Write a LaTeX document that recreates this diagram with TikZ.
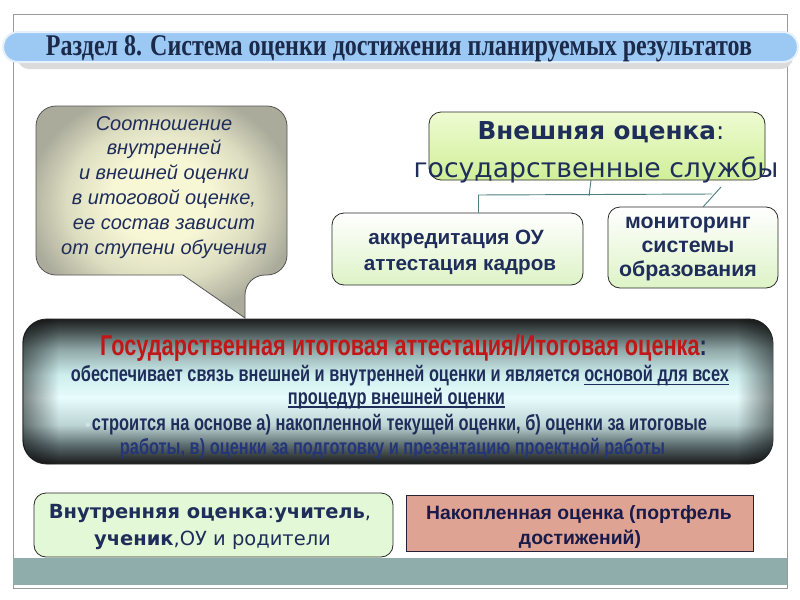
\documentclass[tikz,border=0pt]{standalone}
\usepackage{fontspec}
\setmainfont{Liberation Sans}
\newfontfamily\tserif{Liberation Serif}
\newfontfamily\dvs{DejaVu Sans}
\usepackage{graphicx}
\usetikzlibrary{fadings}
\newsavebox\myulbox
\newcommand\myul[1]{\sbox\myulbox{#1}\rlap{\rule[-1.8pt]{\wd\myulbox}{0.8pt}}\usebox\myulbox}

\definecolor{navy}{HTML}{1F2D5A}
\definecolor{tnavy}{HTML}{1C2A4A}
\definecolor{gred}{HTML}{C01818}
\definecolor{line5}{HTML}{24367A}
\definecolor{bulletc}{HTML}{D0E2E2}
\definecolor{tealline}{HTML}{4F8080}
\definecolor{band}{HTML}{8EADAB}
\definecolor{framec}{HTML}{9A9A9A}
\definecolor{titlefill}{HTML}{9CC8F4}
\definecolor{titleedge}{HTML}{E6F1FC}
\definecolor{boxedge}{HTML}{2A2A2A}
\definecolor{greenfill}{HTML}{E3F8D6}
\definecolor{salmon}{HTML}{DFA393}
\definecolor{nakedge}{HTML}{2A2035}
\definecolor{naktext}{HTML}{1A1A4A}
\definecolor{extTop}{HTML}{EEFBD2}
\definecolor{extBot}{HTML}{D0EF98}
\definecolor{accBot}{HTML}{DDF3C6}
\definecolor{callIn}{HTML}{F7F7D6}
\definecolor{callMid}{HTML}{DCDCC0}
\definecolor{callOut}{HTML}{ABAB9C}
\definecolor{m0}{HTML}{1A1A1A}
\definecolor{m1}{HTML}{5C6C70}
\definecolor{m2}{HTML}{BCD4D4}
\definecolor{m3}{HTML}{E8FCFC}
\definecolor{m4}{HTML}{CDEDED}
\definecolor{m5}{HTML}{8EA6A6}
\definecolor{m6}{HTML}{4A5656}
\definecolor{m7}{HTML}{1E1E1E}

\pgfdeclareverticalshading{metal}{100bp}{color(0bp)=(m0); color(25bp)=(m0); color(31.6bp)=(m1); color(38.5bp)=(m2); color(47.9bp)=(m3); color(55.9bp)=(m4); color(64.6bp)=(m5); color(70.5bp)=(m6); color(75bp)=(m7); color(100bp)=(m7)}
\pgfdeclarehorizontalshading{edgeshade}{100bp}{color(0bp)=(pgftransparent!50); color(25bp)=(pgftransparent!50); color(27.5bp)=(pgftransparent); color(72.5bp)=(pgftransparent); color(75bp)=(pgftransparent!50); color(100bp)=(pgftransparent!50)}
\pgfdeclarefading{edgefade}{\pgfuseshading{edgeshade}}
\pgfdeclareradialshading{callsh}{\pgfpoint{0bp}{4bp}}{color(0bp)=(callIn); color(10bp)=(callIn); color(19bp)=(callMid); color(27bp)=(callOut); color(50bp)=(callOut)}

\begin{document}
\begin{tikzpicture}[x=0.75pt,y=-0.75pt,
  lbl/.style={inner sep=0pt, anchor=base},
  conn/.style={draw=tealline, line width=0.7pt},
  boxnode/.style={draw=boxedge, line width=0.6pt, inner sep=0pt},
]
\useasboundingbox[fill=white] (0,0) rectangle (800,600);

% frame and bottom band
\draw[framec, line width=0.6pt] (13,14) rectangle (787,588);
\fill[band] (13,558) rectangle (787,585);

% title bar
\fill[black!14, rounded corners=8pt] (18,54) rectangle (792,69);
\node[draw=titleedge, line width=1.5pt, fill=titlefill, rounded corners=11pt,
      minimum width=596pt, minimum height=22.5pt, inner sep=0pt] (bar) at (400.5,47) {};
\node[lbl, text=tnavy] (title) at (399,55)
  {\resizebox{529.5pt}{15pt}{\tserif\bfseries Раздел 8. Система оценки достижения планируемых результатов}};

% callout
\path[draw=boxedge!80, line width=0.6pt, shading=callsh]
  (36,190) [rounded corners=15pt] -- (36,106) -- (287,106) -- (287,275) -- (245,275)
  [sharp corners] -- (245,318) -- (183,275) [rounded corners=15pt] -- (36,275) -- cycle;
\foreach \t [count=\i] in {Соотношение, внутренней, и внешней оценки, {в итоговой оценке,}, ее состав зависит, от ступени обучения}
  \node[lbl, font=\itshape\fontsize{15}{18}\selectfont, text=navy] (c\i) at (164,{130+24.8*(\i-1)}) {\t};

% external evaluation
\node[boxnode, rounded corners=9pt, top color=extTop, bottom color=extBot,
      minimum width=252pt, minimum height=51pt] (ext) at (597,146) {};
\node[lbl, font=\dvs\fontsize{18.5}{22}\selectfont, text=navy] (e1) at (601,139) {\textbf{Внешняя оценка}:};
\node[lbl, font=\dvs\fontsize{20}{24}\selectfont, text=navy] (e2) at (596,177) {государственные службы};

\node[boxnode, rounded corners=9pt, top color=white, bottom color=accBot,
      minimum width=188.25pt, minimum height=54pt] (acc) at (457.5,249) {};
\node[lbl, font=\bfseries\fontsize{15.5}{18}\selectfont, text=navy] (a1) at (456,244) {аккредитация ОУ};
\node[lbl, font=\bfseries\fontsize{15.5}{18}\selectfont, text=navy] (a2) at (460,270) {аттестация кадров};

\node[boxnode, rounded corners=9pt, top color=white, bottom color=accBot,
      minimum width=127.5pt, minimum height=60.75pt] (mon) at (693,247.5) {};
\node[lbl, font=\bfseries\fontsize{16}{18}\selectfont, text=navy] (m1) at (688,228) {мониторинг};
\node[lbl, font=\bfseries\fontsize{16}{18}\selectfont, text=navy] (m2) at (688,252) {системы};
\node[lbl, font=\bfseries\fontsize{16}{18}\selectfont, text=navy] (m3) at (688,276) {образования};

% connectors
\coordinate (hl) at (478,195);
\coordinate (hr) at (712,194);
\coordinate (hm) at (589,196);
\coordinate (rs) at (721,187);
\coordinate (re) at (703,207);
\draw[conn] (591,180) -- (hm);
\draw[conn] (hl) -- (hr);
\draw[conn] (hl) -- (hl |- acc.north);
\draw[conn] (rs) -- (re);

% state final attestation
\node[draw=boxedge, line width=0.6pt, rounded corners=18pt, shading=metal,
      minimum width=562.5pt, minimum height=108.75pt, inner sep=0pt] (gia) at (398,391.5) {};
\path[fill=black, path fading=edgefade, rounded corners=18pt] (gia.south west) rectangle (gia.north east);
\node[lbl, text=gred] (g1) at (403.5,355)
  {\resizebox{455pt}{15.6pt}{\bfseries Государственная итоговая аттестация/Итоговая оценка\textcolor{navy}{:}}};
\node[lbl, text=navy] (g2) at (400,381.5)
  {\resizebox{493.5pt}{12.2pt}{\bfseries обеспечивает связь внешней и внутренней оценки и является \myul{основой для всех}}};
\node[lbl, text=navy] (g3) at (396.5,404)
  {\resizebox{162.75pt}{12.2pt}{\bfseries\myul{процедур внешней оценки}}};
\node[lbl, text=bulletc, font=\bfseries\large] (g4b) at (88,430.5) {•};
\node[lbl, text=navy] (g4) at (399.5,430.5)
  {\resizebox{461.25pt}{12.2pt}{\bfseries строится на основе а) накопленной текущей оценки, б) оценки за итоговые}};
\node[lbl, text=line5] (g5) at (392.5,454)
  {\resizebox{408.75pt}{12.2pt}{\bfseries работы, в) оценки за подготовку и презентацию проектной работы}};

% bottom boxes
\node[boxnode, rounded corners=9pt, fill=greenfill,
      minimum width=269.25pt, minimum height=48pt] (inner) at (213.5,525) {};
\node[lbl, font=\dvs\fontsize{14.6}{17}\selectfont, text=navy] (i1) at (210,518.3) {\textbf{Внутренняя оценка}:\textbf{учитель},};
\node[lbl, font=\dvs\fontsize{14.6}{17}\selectfont, text=navy] (i2) at (212.5,545) {\textbf{ученик},ОУ и родители};

\node[draw=nakedge, line width=0.7pt, fill=salmon, inner sep=0pt,
      minimum width=260.25pt, minimum height=42pt] (nak) at (579.5,523) {};
\node[lbl, font=\bfseries\fontsize{14.5}{17}\selectfont, text=naktext] (n1) at (579,519.3) {Накопленная оценка (портфель};
\node[lbl, font=\bfseries\fontsize{14.5}{17}\selectfont, text=naktext] (n2) at (580,544) {достижений)};
\end{tikzpicture}
\end{document}
